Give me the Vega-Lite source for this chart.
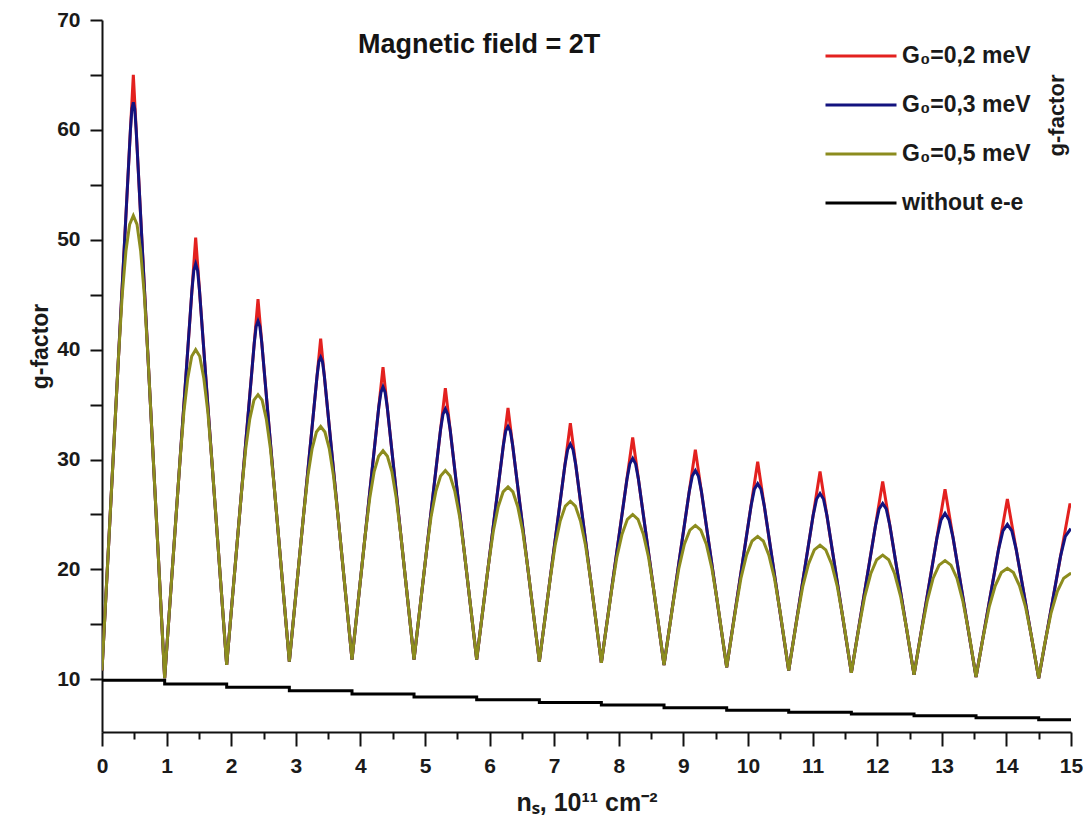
{
  "$schema": "https://vega.github.io/schema/vega-lite/v6.json",
  "width": 969,
  "height": 712,
  "autosize": {"type": "none"},
  "padding": {"left": 102, "top": 20, "right": 12, "bottom": 104},
  "background": "white",
  "config": {"view": {"stroke": null}, "font": "Liberation Sans"},
  "title": {"text": "Magnetic field = 2T", "anchor": "start", "frame": "group", "orient": "top", "dx": 256, "dy": 71, "offset": 0, "fontSize": 27, "fontWeight": "bold", "font": "Liberation Sans", "color": "#141414", "baseline": "alphabetic"},
  "datasets": {
    "red": [
      {"x":0,"y":10.8},{"x":0.485,"y":65},{"x":0.97,"y":10.1},{"x":1.45,"y":50.2},{"x":1.93,"y":11.3},{"x":2.415,"y":44.6},{"x":2.9,"y":11.6},{"x":3.385,"y":41},{"x":3.87,"y":11.8},{"x":4.35,"y":38.4},{"x":4.83,"y":11.8},{"x":5.315,"y":36.5},{"x":5.8,"y":11.8},{"x":6.285,"y":34.7},{"x":6.77,"y":11.6},{"x":7.25,"y":33.3},{"x":7.73,"y":11.5},{"x":8.215,"y":32},{"x":8.7,"y":11.3},{"x":9.185,"y":30.9},{"x":9.67,"y":11.1},{"x":10.15,"y":29.8},{"x":10.63,"y":10.8},{"x":11.115,"y":28.9},{"x":11.6,"y":10.6},{"x":12.085,"y":28},{"x":12.57,"y":10.4},{"x":13.05,"y":27.3},{"x":13.53,"y":10.2},{"x":14.015,"y":26.4},{"x":14.5,"y":10.1},{"x":14.985,"y":26.0},{"x":15,"y":25.6}
    ],
    "blue": [
      {"x":0,"y":10.8},
      {"x":0.440,"y":60.0},{"x":0.463,"y":61.9},{"x":0.485,"y":62.5},{"x":0.507,"y":61.9},{"x":0.529,"y":60.0},
      {"x":0.97,"y":10.1},
      {"x":1.392,"y":45.4},{"x":1.421,"y":47.2},{"x":1.45,"y":47.8},{"x":1.480,"y":47.2},{"x":1.509,"y":45.4},
      {"x":1.93,"y":11.3},
      {"x":2.357,"y":40.6},{"x":2.386,"y":42.1},{"x":2.415,"y":42.6},{"x":2.444,"y":42.1},{"x":2.474,"y":40.6},
      {"x":2.9,"y":11.6},
      {"x":3.329,"y":37.6},{"x":3.357,"y":38.9},{"x":3.385,"y":39.3},{"x":3.413,"y":38.9},{"x":3.442,"y":37.6},
      {"x":3.87,"y":11.8},
      {"x":4.285,"y":34.8},{"x":4.318,"y":36.1},{"x":4.35,"y":36.6},{"x":4.383,"y":36.1},{"x":4.415,"y":34.8},
      {"x":4.83,"y":11.8},
      {"x":5.240,"y":32.7},{"x":5.278,"y":34.1},{"x":5.315,"y":34.6},{"x":5.352,"y":34.1},{"x":5.390,"y":32.7},
      {"x":5.8,"y":11.8},
      {"x":6.213,"y":31.3},{"x":6.249,"y":32.6},{"x":6.285,"y":33.0},{"x":6.321,"y":32.6},{"x":6.357,"y":31.3},
      {"x":6.77,"y":11.6},
      {"x":7.166,"y":29.5},{"x":7.208,"y":30.9},{"x":7.25,"y":31.4},{"x":7.292,"y":30.9},{"x":7.334,"y":29.5},
      {"x":7.73,"y":11.5},
      {"x":8.126,"y":28.2},{"x":8.170,"y":29.6},{"x":8.215,"y":30.1},{"x":8.260,"y":29.6},{"x":8.304,"y":28.2},
      {"x":8.7,"y":11.3},
      {"x":9.091,"y":27.1},{"x":9.138,"y":28.5},{"x":9.185,"y":29.0},{"x":9.232,"y":28.5},{"x":9.279,"y":27.1},
      {"x":9.67,"y":11.1},
      {"x":10.048,"y":25.8},{"x":10.099,"y":27.3},{"x":10.15,"y":27.8},{"x":10.201,"y":27.3},{"x":10.252,"y":25.8},
      {"x":10.63,"y":10.8},
      {"x":11.008,"y":24.9},{"x":11.062,"y":26.4},{"x":11.115,"y":26.9},{"x":11.168,"y":26.4},{"x":11.222,"y":24.9},
      {"x":11.6,"y":10.6},
      {"x":11.974,"y":24.0},{"x":12.030,"y":25.5},{"x":12.085,"y":26.0},{"x":12.140,"y":25.5},{"x":12.196,"y":24.0},
      {"x":12.57,"y":10.4},
      {"x":12.926,"y":22.9},{"x":12.988,"y":24.5},{"x":13.05,"y":25.1},{"x":13.112,"y":24.5},{"x":13.174,"y":22.9},
      {"x":13.53,"y":10.2},
      {"x":13.878,"y":21.8},{"x":13.946,"y":23.5},{"x":14.015,"y":24.1},{"x":14.084,"y":23.5},{"x":14.152,"y":21.8},
      {"x":14.5,"y":10.1},
      {"x":14.838,"y":21.2},{"x":14.912,"y":23.0},{"x":14.985,"y":23.6},{"x":15,"y":23.55}
    ],
    "olive": [
      {"x":0,"y":10.8},
      {"x":0.256,"y":39.4},{"x":0.313,"y":45.0},{"x":0.371,"y":49.0},{"x":0.428,"y":51.4},{"x":0.485,"y":52.2},{"x":0.542,"y":51.4},{"x":0.598,"y":49.0},{"x":0.655,"y":45.0},{"x":0.711,"y":39.4},
      {"x":0.97,"y":10.1},
      {"x":1.206,"y":29.8},{"x":1.267,"y":34.3},{"x":1.328,"y":37.4},{"x":1.389,"y":39.4},{"x":1.45,"y":40.0},{"x":1.513,"y":39.4},{"x":1.576,"y":37.4},{"x":1.639,"y":34.3},{"x":1.702,"y":29.8},
      {"x":1.93,"y":11.3},
      {"x":2.162,"y":27.2},{"x":2.225,"y":31.0},{"x":2.288,"y":33.7},{"x":2.352,"y":35.4},{"x":2.415,"y":35.9},{"x":2.479,"y":35.4},{"x":2.543,"y":33.7},{"x":2.607,"y":31.0},{"x":2.671,"y":27.2},
      {"x":2.9,"y":11.6},
      {"x":3.121,"y":25.0},{"x":3.186,"y":28.5},{"x":3.253,"y":31.0},{"x":3.319,"y":32.5},{"x":3.385,"y":33.0},{"x":3.451,"y":32.5},{"x":3.518,"y":31.0},{"x":3.584,"y":28.5},{"x":3.651,"y":25.0},
      {"x":3.87,"y":11.8},
      {"x":4.076,"y":23.2},{"x":4.145,"y":26.5},{"x":4.213,"y":28.9},{"x":4.282,"y":30.3},{"x":4.35,"y":30.8},{"x":4.418,"y":30.3},{"x":4.487,"y":28.9},{"x":4.555,"y":26.5},{"x":4.624,"y":23.2},
      {"x":4.83,"y":11.8},
      {"x":5.020,"y":21.5},{"x":5.094,"y":24.8},{"x":5.168,"y":27.1},{"x":5.241,"y":28.5},{"x":5.315,"y":29.0},{"x":5.389,"y":28.5},{"x":5.462,"y":27.1},{"x":5.536,"y":24.8},{"x":5.610,"y":21.5},
      {"x":5.8,"y":11.8},
      {"x":5.980,"y":20.3},{"x":6.057,"y":23.45},{"x":6.133,"y":25.7},{"x":6.209,"y":27.05},{"x":6.285,"y":27.5},{"x":6.361,"y":27.05},{"x":6.436,"y":25.7},{"x":6.513,"y":23.45},{"x":6.588,"y":20.3},
      {"x":6.77,"y":11.6},
      {"x":6.937,"y":19.1},{"x":7.015,"y":22.2},{"x":7.093,"y":24.4},{"x":7.172,"y":25.76},{"x":7.25,"y":26.2},{"x":7.328,"y":25.76},{"x":7.407,"y":24.4},{"x":7.485,"y":22.2},{"x":7.563,"y":19.1},
      {"x":7.73,"y":11.5},
      {"x":7.886,"y":18.0},{"x":7.968,"y":21.06},{"x":8.050,"y":23.2},{"x":8.133,"y":24.56},{"x":8.215,"y":25.0},{"x":8.297,"y":24.56},{"x":8.380,"y":23.2},{"x":8.462,"y":21.06},{"x":8.544,"y":18.0},
      {"x":8.7,"y":11.3},
      {"x":8.845,"y":17.1},{"x":8.930,"y":20.12},{"x":9.015,"y":22.3},{"x":9.100,"y":23.57},{"x":9.185,"y":24.0},{"x":9.270,"y":23.57},{"x":9.355,"y":22.3},{"x":9.440,"y":20.12},{"x":9.525,"y":17.1},
      {"x":9.67,"y":11.1},
      {"x":9.804,"y":16.2},{"x":9.890,"y":19.18},{"x":9.977,"y":21.3},{"x":10.063,"y":22.58},{"x":10.15,"y":23.0},{"x":10.237,"y":22.58},{"x":10.323,"y":21.3},{"x":10.410,"y":19.18},{"x":10.496,"y":16.2},
      {"x":10.63,"y":10.8},
      {"x":10.758,"y":15.5},{"x":10.847,"y":18.43},{"x":10.937,"y":20.5},{"x":11.026,"y":21.78},{"x":11.115,"y":22.2},{"x":11.204,"y":21.78},{"x":11.294,"y":20.5},{"x":11.383,"y":18.43},{"x":11.472,"y":15.5},
      {"x":11.6,"y":10.6},
      {"x":11.714,"y":14.6},{"x":11.807,"y":17.53},{"x":11.900,"y":19.6},{"x":11.992,"y":20.88},{"x":12.085,"y":21.3},{"x":12.178,"y":20.88},{"x":12.270,"y":19.6},{"x":12.363,"y":17.53},{"x":12.456,"y":14.6},
      {"x":12.57,"y":10.4},
      {"x":12.683,"y":14.3},{"x":12.775,"y":17.14},{"x":12.866,"y":19.2},{"x":12.958,"y":20.39},{"x":13.05,"y":20.8},{"x":13.142,"y":20.39},{"x":13.234,"y":19.2},{"x":13.325,"y":17.14},{"x":13.417,"y":14.3},
      {"x":13.53,"y":10.2},
      {"x":13.639,"y":13.8},{"x":13.733,"y":16.56},{"x":13.827,"y":18.5},{"x":13.921,"y":19.71},{"x":14.015,"y":20.1},{"x":14.109,"y":19.71},{"x":14.203,"y":18.5},{"x":14.297,"y":16.56},{"x":14.391,"y":13.8},
      {"x":14.5,"y":10.1},
      {"x":14.592,"y":13.2},{"x":14.690,"y":16.0},{"x":14.789,"y":18.0},{"x":14.887,"y":19.2},{"x":14.985,"y":19.6},{"x":15,"y":19.6}
    ],
    "base": [
      {"x":0,"y":9.9},{"x":0.97,"y":9.57},{"x":1.93,"y":9.27},{"x":2.9,"y":8.95},{"x":3.87,"y":8.65},{"x":4.83,"y":8.38},{"x":5.8,"y":8.13},{"x":6.77,"y":7.89},{"x":7.73,"y":7.65},{"x":8.7,"y":7.41},{"x":9.67,"y":7.17},{"x":10.63,"y":6.99},{"x":11.6,"y":6.84},{"x":12.57,"y":6.68},{"x":13.53,"y":6.5},{"x":14.5,"y":6.32},{"x":15,"y":6.32}
    ]
  },
  "resolve": {"axis": {"x": "independent", "y": "independent"}},
  "layer": [
    {
      "data": {"name": "red"},
      "mark": {"type": "line", "strokeWidth": 3, "strokeJoin": "miter", "clip": true},
      "encoding": {
        "x": {"field": "x", "type": "quantitative", "scale": {"domain": [0, 15], "nice": false, "zero": false},
          "axis": {"orient": "bottom", "values": [0,1,2,3,4,5,6,7,8,9,10,11,12,13,14,15], "grid": false, "domainColor": "#111", "domainWidth": 2, "tickColor": "#111", "tickWidth": 2, "tickSize": 14, "labelFontSize": 21, "labelFontWeight": "bold", "labelFont": "Liberation Sans", "labelColor": "#1a1a1a", "labelPadding": 9, "labelFlush": false, "labelOverlap": false,
            "title": "nₛ, 10¹¹ cm⁻²", "titleFontSize": 25, "titleFontWeight": "bold", "titleFont": "Liberation Sans", "titleColor": "#1a1a1a", "titlePadding": 14}},
        "y": {"field": "y", "type": "quantitative", "scale": {"domain": [5.2, 70], "nice": false, "zero": false},
          "axis": {"orient": "left", "values": [10,15,20,25,30,35,40,45,50,55,60,65,70], "labelExpr": "datum.value % 10 === 0 ? datum.label : ''", "grid": false, "domainColor": "#111", "domainWidth": 2, "tickColor": "#111", "tickWidth": 2, "tickSize": 12, "labelFontSize": 21, "labelFontWeight": "bold", "labelFont": "Liberation Sans", "labelColor": "#1a1a1a", "labelPadding": 10, "labelOverlap": false,
            "title": "g-factor", "titleFontSize": 23, "titleFontWeight": "bold", "titleFont": "Liberation Sans", "titleColor": "#1a1a1a", "titleAngle": 270, "titleX": -55, "titleY": 326, "titleAlign": "center", "titleBaseline": "alphabetic"}},
        "color": {"datum": "G₀=0,2 meV", "type": "nominal",
          "scale": {"domain": ["G₀=0,2 meV", "G₀=0,3 meV", "G₀=0,5 meV", "without e-e"], "range": ["#e3211f", "#13137f", "#8c8c1e", "#000000"]},
          "legend": {"orient": "none", "legendX": 722, "legendY": -1, "title": null, "symbolType": "stroke", "symbolSize": 5041, "symbolStrokeWidth": 3, "labelFontSize": 23, "labelFontWeight": "bold", "labelFont": "Liberation Sans", "labelColor": "#1a1a1a", "labelOffset": 4, "rowPadding": -28, "padding": 0}}
      }
    },
    {
      "data": {"name": "blue"},
      "mark": {"type": "line", "strokeWidth": 3, "strokeJoin": "miter", "clip": true},
      "encoding": {
        "x": {"field": "x", "type": "quantitative", "scale": {"domain": [0, 15], "nice": false, "zero": false},
          "axis": {"orient": "bottom", "values": [0.5,1.5,2.5,3.5,4.5,5.5,6.5,7.5,8.5,9.5,10.5,11.5,12.5,13.5,14.5], "grid": false, "domain": false, "labels": false, "title": null, "tickColor": "#111", "tickWidth": 2, "tickSize": 7}},
        "y": {"field": "y", "type": "quantitative", "axis": null},
        "color": {"datum": "G₀=0,3 meV", "type": "nominal"}
      }
    },
    {
      "data": {"name": "olive"},
      "mark": {"type": "line", "strokeWidth": 3, "strokeJoin": "miter", "clip": true},
      "encoding": {
        "x": {"field": "x", "type": "quantitative", "axis": null},
        "y": {"field": "y", "type": "quantitative", "axis": null},
        "color": {"datum": "G₀=0,5 meV", "type": "nominal"}
      }
    },
    {
      "data": {"name": "base"},
      "mark": {"type": "line", "strokeWidth": 3, "interpolate": "step-after", "clip": true},
      "encoding": {
        "x": {"field": "x", "type": "quantitative", "axis": null},
        "y": {"field": "y", "type": "quantitative",
          "axis": {"orient": "right", "domain": false, "ticks": false, "labels": false, "grid": false, "title": "g-factor", "titleFontSize": 22, "titleFontWeight": "bold", "titleFont": "Liberation Sans", "titleColor": "#1a1a1a", "titleAngle": 270, "titleX": -8, "titleY": 95, "titleAlign": "center", "titleBaseline": "alphabetic"}},
        "color": {"datum": "without e-e", "type": "nominal"}
      }
    }
  ]
}
